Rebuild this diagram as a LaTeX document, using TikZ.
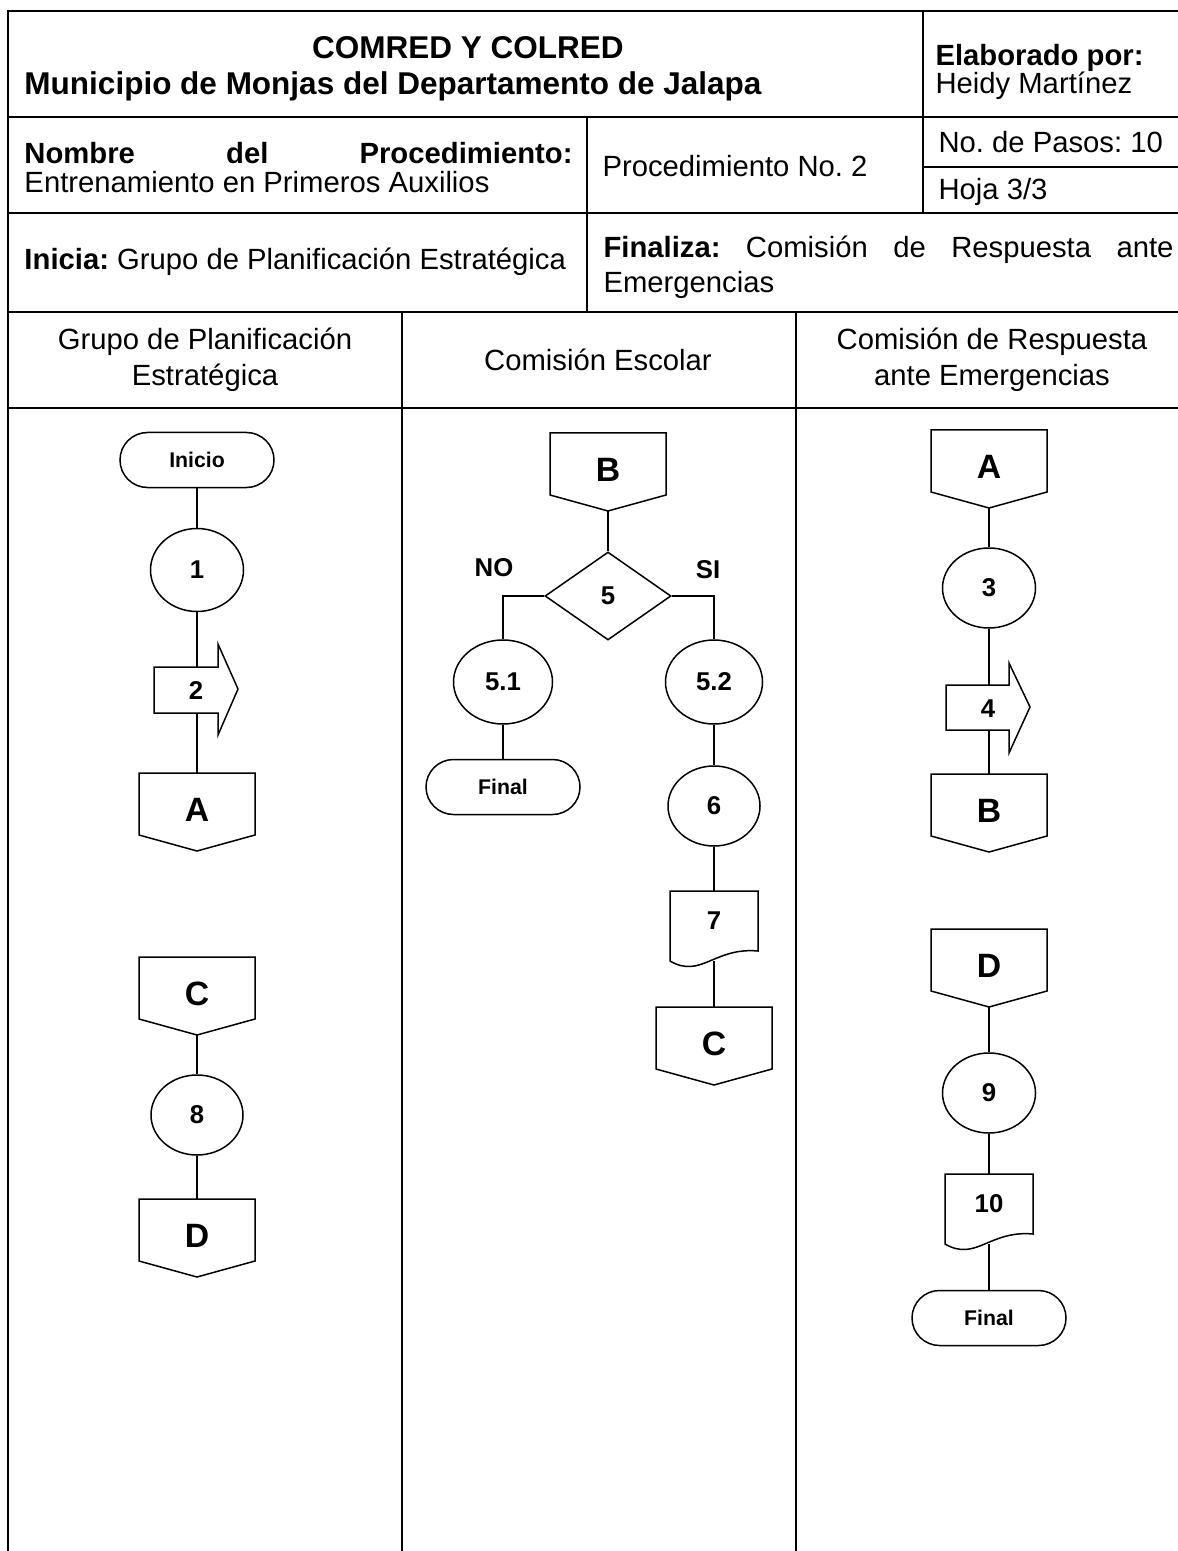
\documentclass[tikz,border=0pt]{standalone}
\usepackage{fontspec}
\setmainfont{Liberation Sans}
\usetikzlibrary{shapes.geometric,shapes.misc}
\newcommand\bodyf{\fontsize{11.7}{14}\selectfont}
\newcommand\titf{\bfseries\fontsize{12.6}{15}\selectfont}
\newcommand\numf{\bfseries\fontsize{10.3}{12}\selectfont}
\newcommand\termf{\bfseries\fontsize{8.5}{10}\selectfont}
\newcommand\letf{\bfseries\fontsize{13.5}{15}\selectfont}
% off-page connector: name, cx, top, label
\newcommand\offpg[4]{%
  \draw[shp] (#2-58,#3) -- (#2+58,#3) -- (#2+58,#3+62) -- (#2,#3+78) -- (#2-58,#3+62) -- cycle;
  \node[lbl,font=\letf] (#1) at (#2,#3+37) {#4};
  \coordinate (#1t) at (#2,#3);
  \coordinate (#1b) at (#2,#3+78);}
% document shape: name, cx, top, label
\newcommand\docshp[4]{%
  \draw[shp] (#2-44,#3) -- (#2+44,#3) -- (#2+44,#3+60)
     .. controls (#2,#3+56) and (#2-13,#3+88) .. (#2-44,#3+70) -- cycle;
  \node[lbl,font=\numf] (#1) at (#2,#3+30) {#4};
  \coordinate (#1t) at (#2,#3);
  \coordinate (#1b) at (#2,#3+70);}
\begin{document}
\frenchspacing
\begin{tikzpicture}[x=0.4pt,y=-0.4pt,
  tbl/.style={line width=0.8pt},
  shp/.style={draw,line width=0.6pt,fill=white},
  con/.style={line width=0.6pt},
  lbl/.style={inner sep=0pt},
  proc/.style={shp,ellipse,inner sep=0pt,font=\numf},
  term/.style={shp,rounded rectangle,inner sep=0pt,minimum width=61.6pt,minimum height=22pt,font=\termf},
  tx/.style={inner sep=0pt,text height=8.4pt,text depth=0pt,font=\bodyf},
  tt/.style={inner sep=0pt,text height=9pt,text depth=0pt,font=\titf}]
\useasboundingbox (0,0) rectangle (1178,1551);
% ---------- table ----------
\draw[tbl] (8,1560) -- (8,11) -- (1190,11);
\foreach \yy in {117,213,312,408} \draw[tbl] (8,\yy) -- (1190,\yy);
\draw[tbl] (923,11) -- (923,213);
\draw[tbl] (923,167) -- (1190,167);
\draw[tbl] (587,117) -- (587,312);
\draw[tbl] (402,312) -- (402,1560);
\draw[tbl] (796,312) -- (796,1560);
% ---------- header texts ----------
\node[tt] (h1) at (468,47) {COMRED Y COLRED};
\node[tt,anchor=west] (h2) at (24,83) {Municipio de Monjas del Departamento de Jalapa};
\node[tx,anchor=west,font=\bodyf\bfseries] (h3) at (935,55) {Elaborado por:};
\node[tx,anchor=west] (h4) at (935,83) {Heidy Martínez};
\node[tx,anchor=west] (h5) at (24,153) {\hbox to 219.2pt{\textbf{Nombre}\hfill\textbf{del}\hfill\textbf{Procedimiento:}}};
\node[tx,anchor=west] (h6) at (24,182) {Entrenamiento en Primeros Auxilios};
\node[tx,anchor=west] (h7) at (602,166) {Procedimiento No. 2};
\node[tx,anchor=west] (h8) at (938,142) {No. de Pasos: 10};
\node[tx,anchor=west] (h9) at (938,189) {Hoja 3/3};
\node[tx,anchor=west] (h10) at (24,259) {\textbf{Inicia:} Grupo de Planificación Estratégica};
\node[tx,anchor=west] (h11) at (603,247) {\hbox to 228pt{\textbf{Finaliza:}\hfill Comisión\hfill de\hfill Respuesta\hfill ante}};
\node[tx,anchor=west] (h12) at (603,282) {Emergencias};
\node[tx] (l1a) at (205,339) {Grupo de Planificación};
\node[tx] (l1b) at (205,375) {Estratégica};
\node[tx] (l2) at (598,360) {Comisión Escolar};
\node[tx] (l3a) at (992,339) {Comisión de Respuesta};
\node[tx] (l3b) at (992,375) {ante Emergencias};
% ---------- connector end points ----------
\coordinate (s2t) at (197,667);
\coordinate (s2b) at (197,713);
\coordinate (s4t) at (989,685);
\coordinate (s4b) at (989,730);
% ---------- lane 1 ----------
\node[term] (ini) at (197,460) {Inicio};
\node[proc,minimum width=37.2pt,minimum height=33.2pt] (c1) at (197,570) {1};
\draw[con] (ini.south) -- (c1.north);
\draw[con] (c1.south) -- (s2t);
\draw[shp] (154,667) -- (218,667) -- (218,644) -- (238,689) -- (218,735) -- (218,713) -- (154,713) -- cycle;
\node[lbl,font=\numf] (s2) at (196,691) {2};
\offpg{A1}{197}{773}{A}
\draw[con] (s2b) -- (A1t);
\offpg{C1}{197}{957}{C}
\node[proc,minimum width=36.8pt,minimum height=32pt] (c8) at (197,1115) {8};
\draw[con] (C1b) -- (c8.north);
\offpg{D1}{197}{1199}{D}
\draw[con] (c8.south) -- (D1t);
% ---------- lane 2 ----------
\offpg{B2}{608}{433}{B}
\node[shp,diamond,inner sep=0pt,minimum width=50.4pt,minimum height=35.2pt,font=\numf] (d5) at (608,596) {5};
\draw[con] (B2b) -- (d5.north);
\node[lbl,font=\numf] (no) at (494,568) {NO};
\node[lbl,font=\numf] (si) at (708,570) {SI};
\node[proc,minimum width=39.6pt,minimum height=33.6pt] (c51) at (503,682) {5.1};
\node[proc,minimum width=38.8pt,minimum height=33.6pt] (c52) at (714,682) {5.2};
\draw[con] (d5.west) -| (c51.north);
\draw[con] (d5.east) -| (c52.north);
\node[term] (fin1) at (503,787) {Final};
\draw[con] (c51.south) -- (fin1.north);
\node[proc,minimum width=36.8pt,minimum height=32pt] (c6) at (714,806) {6};
\draw[con] (c52.south) -- (c6.north);
\docshp{P7}{714}{891}{7}
\draw[con] (c6.south) -- (P7t);
\offpg{C2}{714}{1007}{C}
\draw[con] (P7b) -- (C2t);
% ---------- lane 3 ----------
\offpg{A3}{989}{430}{A}
\node[proc,minimum width=37.2pt,minimum height=32pt] (c3) at (989,588) {3};
\draw[con] (A3b) -- (c3.north);
\draw[con] (c3.south) -- (s4t);
\draw[shp] (946,685) -- (1009,685) -- (1009,663) -- (1030,707) -- (1009,753) -- (1009,730) -- (946,730) -- cycle;
\node[lbl,font=\numf] (s4) at (988,709) {4};
\offpg{B3}{989}{774}{B}
\draw[con] (s4b) -- (B3t);
\offpg{D3}{989}{929}{D}
\node[proc,minimum width=37.2pt,minimum height=32pt] (c9) at (989,1093) {9};
\draw[con] (D3b) -- (c9.north);
\docshp{P10}{989}{1174}{10}
\draw[con] (c9.south) -- (P10t);
\node[term] (fin2) at (989,1318) {Final};
\draw[con] (P10b) -- (fin2.north);
\end{tikzpicture}
\end{document}
